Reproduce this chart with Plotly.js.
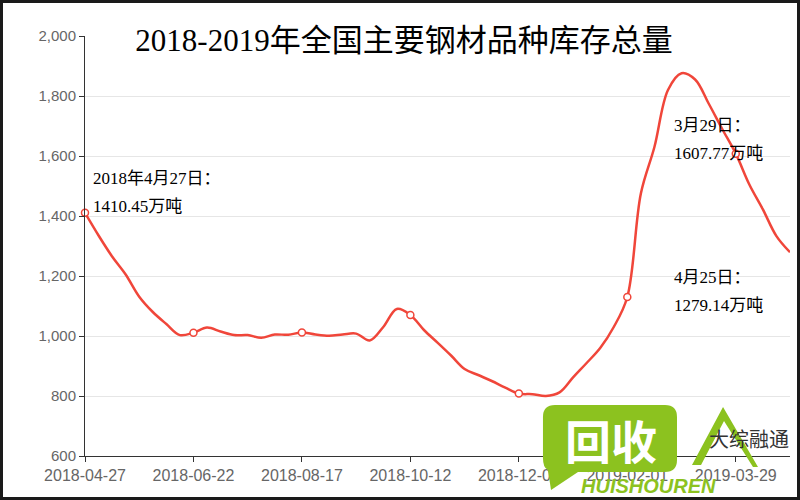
<!DOCTYPE html>
<html>
<head>
<meta charset="utf-8">
<script src="https://cdn.plot.ly/plotly-3.0.1.min.js"></script>
<style>
  html, body { margin: 0; padding: 0; background: #fff; }
  #wrap { position: relative; width: 800px; height: 500px; }
  #chart { width: 800px; height: 500px; }
  #frame { position: absolute; left: 0; top: 0; width: 800px; height: 500px; box-sizing: border-box; border: 3px solid #1a1a1a; pointer-events: none; }
</style>
</head>
<body>
<div id="wrap"><div id="chart"></div><div id="frame"></div></div>
<script>
// ---- data ----
const dates = [
  "2018-04-27","2018-05-04","2018-05-11","2018-05-18","2018-05-25","2018-06-01","2018-06-08","2018-06-15",
  "2018-06-22","2018-06-29","2018-07-06","2018-07-13","2018-07-20","2018-07-27","2018-08-03","2018-08-10",
  "2018-08-17","2018-08-24","2018-08-31","2018-09-07","2018-09-14","2018-09-21","2018-09-28","2018-10-05",
  "2018-10-12","2018-10-19","2018-10-26","2018-11-02","2018-11-09","2018-11-16","2018-11-23","2018-11-30",
  "2018-12-07","2018-12-14","2018-12-21","2018-12-28","2019-01-04","2019-01-11","2019-01-18","2019-01-25",
  "2019-02-01","2019-02-08","2019-02-15","2019-02-22","2019-03-01","2019-03-08","2019-03-15","2019-03-22",
  "2019-03-29","2019-04-05","2019-04-12","2019-04-19","2019-04-25"
];
const inventory = [
  1410.45, 1335, 1265, 1205, 1131, 1080, 1040, 1003,
  1011, 1028, 1015, 1003, 1003, 994, 1005, 1004,
  1012, 1005, 1001, 1005, 1008, 985, 1030, 1090,
  1070, 1020, 978, 935, 890, 870, 850, 828,
  808, 806, 800, 812, 862, 910, 960, 1030,
  1130, 1475, 1630, 1820, 1876, 1855, 1775, 1690,
  1607.77, 1505, 1422, 1333, 1279.14
];
const tickLabels = ["2018-04-27","2018-06-22","2018-08-17","2018-10-12","2018-12-07","2019-02-01","2019-03-29"];
const yTicks = [600, 800, 1000, 1200, 1400, 1600, 1800, 2000];
const markerDates = ["2018-04-27","2018-06-22","2018-08-17","2018-10-12","2018-12-07","2019-02-01","2019-03-29"];
const titleText = "2018-2019年全国主要钢材品种库存总量";
const noteLines = [
  ["2018年4月27日：", "1410.45万吨"],
  ["3月29日：", "1607.77万吨"],
  ["4月25日：", "1279.14万吨"]
];

// ---- layout helpers (pixel -> paper) ----
const L = 85, R = 790, T = 36, B = 456;
const px = x => (x - L) / (R - L);
const py = y => (B - y) / (B - T);

const markerVals = markerDates.map(d => inventory[dates.indexOf(d)]);

const lineTrace = {
  x: dates, y: inventory, type: 'scatter', mode: 'lines',
  line: { color: '#f0463a', width: 2.5, shape: 'spline', smoothing: 1 },
  hoverinfo: 'x+y', showlegend: false
};
const markTrace = {
  x: markerDates, y: markerVals, type: 'scatter', mode: 'markers',
  marker: { symbol: 'circle', size: 7, color: '#ffffff', line: { color: '#f0463a', width: 1.5 } },
  showlegend: false, hoverinfo: 'skip', cliponaxis: false
};

const serif = "'Liberation Serif', 'Noto Sans CJK SC', serif";
const notePos = [
  { x: 91, y: [178, 206] },
  { x: 672, y: [125, 153] },
  { x: 672, y: [277, 305] }
];
const annotations = [];
noteLines.forEach((lines, i) => {
  lines.forEach((t, j) => {
    annotations.push({
      xref: 'paper', yref: 'paper', x: px(notePos[i].x), y: py(notePos[i].y[j]),
      xanchor: 'left', yanchor: 'middle', showarrow: false, text: t,
      font: { family: serif, size: 17, color: '#000' }
    });
  });
});

// watermark
const green = '#8cc21f';
annotations.push({
  xref: 'paper', yref: 'paper', x: px(611), y: py(439), xanchor: 'center', yanchor: 'middle',
  showarrow: false, text: '<b>回收</b>', font: { family: "'Noto Sans CJK SC'", size: 46, color: '#ffffff' }
});
annotations.push({
  xref: 'paper', yref: 'paper', x: px(648), y: py(486), xanchor: 'center', yanchor: 'middle',
  showarrow: false, text: '<b><i>HUISHOUREN</i></b>', font: { family: "'Liberation Sans', Arial", size: 20, color: green }
});
annotations.push({
  xref: 'paper', yref: 'paper', x: px(749), y: py(438), xanchor: 'center', yanchor: 'middle',
  showarrow: false, text: '大综融通', font: { family: "'Noto Sans CJK SC'", size: 20, color: '#333' }
});

function P(x, y) { return px(x).toFixed(4) + ',' + py(y).toFixed(4); }
const bubble = 'M' + P(555,405) + ' L' + P(665,405) + ' Q' + P(677,405) + ' ' + P(677,417) +
  ' L' + P(677,460) + ' Q' + P(677,472) + ' ' + P(665,472) + ' L' + P(578,472) +
  ' L' + P(551,490) + ' L' + P(548,470) + ' Q' + P(543,468) + ' ' + P(543,458) +
  ' L' + P(543,417) + ' Q' + P(543,405) + ' ' + P(555,405) + ' Z';
const tri = 'M' + P(723,407) + ' L' + P(692,465) + ' L' + P(701,465) + ' L' + P(724,421) +
  ' L' + P(753,467) + ' L' + P(758,467) + ' Z';

const layout = {
  width: 800, height: 500,
  margin: { l: L, r: 800 - R, t: T, b: 500 - B },
  paper_bgcolor: '#ffffff', plot_bgcolor: '#ffffff',
  title: {
    text: titleText, x: 404 / 800, y: 1 - 40 / 500, xref: 'container', yref: 'container',
    xanchor: 'center', yanchor: 'middle',
    font: { family: serif, size: 31, color: '#000' }
  },
  xaxis: {
    type: 'category', range: [0, dates.length - 1],
    tickmode: 'array', tickvals: tickLabels, ticktext: tickLabels,
    showgrid: false, zeroline: false,
    showline: true, linecolor: '#333', linewidth: 1,
    ticks: 'outside', ticklen: 5, tickcolor: '#333',
    tickfont: { family: "'Liberation Sans', Arial", size: 16, color: '#666' }
  },
  yaxis: {
    range: [600, 2000], tickmode: 'array', tickvals: yTicks,
    tickformat: ',d', separatethousands: true,
    showgrid: true, gridcolor: '#e6e6e6', gridwidth: 1, zeroline: false,
    showline: true, linecolor: '#333', linewidth: 1,
    ticks: 'outside', ticklen: 5, tickcolor: '#333',
    tickfont: { family: "'Liberation Sans', Arial", size: 15, color: '#666' }
  },
  shapes: [
    { type: 'path', xref: 'paper', yref: 'paper', path: bubble, fillcolor: green, line: { width: 0 }, layer: 'above' },
    { type: 'path', xref: 'paper', yref: 'paper', path: tri, fillcolor: green, line: { width: 0 }, layer: 'above' }
  ],
  annotations: annotations,
  showlegend: false
};

Plotly.newPlot('chart', [lineTrace, markTrace], layout, { displayModeBar: false, staticPlot: true });
</script>
</body>
</html>
